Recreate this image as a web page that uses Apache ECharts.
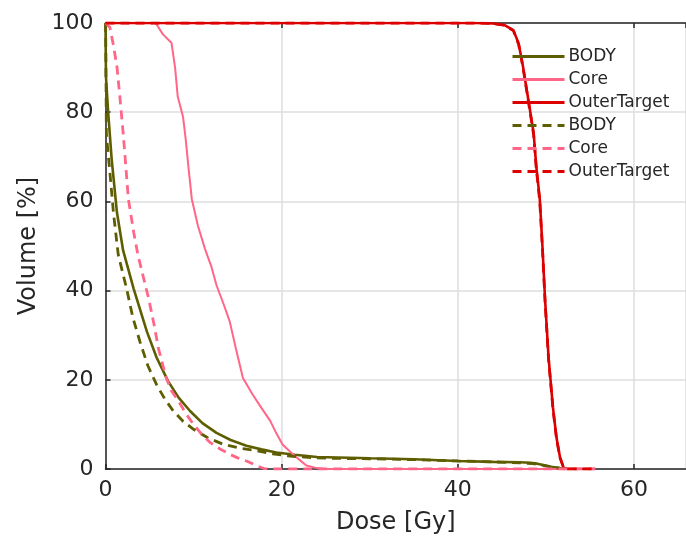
<!DOCTYPE html>
<html>
<head>
<meta charset="utf-8">
<script src="https://cdn.jsdelivr.net/npm/echarts@6/dist/echarts.min.js"></script>
<style>html,body{margin:0;padding:0;background:#fff}#c{width:686px;height:540px}</style>
</head>
<body>
<div id="c"></div>
<script>
var xTicks = [0, 20, 40, 60];
var yTicks = [0, 20, 40, 60, 80, 100];
var seriesNames = ['BODY', 'Core', 'OuterTarget'];

var bodySolid = [[0,100],[0.05,88],[0.3,80],[0.7,69.5],[1.3,57.5],[2.0,49],[3.2,40.4],[4.7,30.8],[5.8,25],[7.1,19.7],[8.3,16],[9.6,13],[11,10.3],[12.6,8.1],[14.2,6.5],[16,5.2],[17.7,4.4],[19.4,3.7],[21.5,3.2],[24,2.7],[30,2.4],[35,2.2],[40,1.8],[44,1.6],[47,1.5],[48.2,1.4],[49,1.2],[49.7,0.9],[50.6,0.5],[51.6,0.2],[52.5,0]];
var coreSolid = [[0,100],[5.7,100],[6.5,97.5],[7.5,95.5],[7.9,90],[8.2,83.5],[8.8,79],[9.1,74],[9.4,68],[9.8,60.5],[10.5,54.5],[11.3,49.3],[12,45.5],[12.6,41.2],[13.4,37],[14.1,33.1],[14.8,27],[15.6,20.4],[16.7,16.7],[17.7,13.7],[18.7,10.8],[19.4,8],[20.1,5.5],[21,3.8],[21.7,2.6],[22.3,1.6],[22.8,0.8],[24,0.2],[25,0],[55.6,0]];
var outerSolid = [[0,100],[42,100],[44,99.9],[45.3,99.5],[46.3,98.4],[46.9,95.4],[47.4,90.2],[48,82.8],[48.6,75.4],[48.9,67.9],[49.3,60.5],[49.6,50],[49.9,38],[50.3,24.9],[50.8,13.7],[51.2,7],[51.6,2.6],[52,0.3],[52.5,0],[55.6,0]];

var bodyDashed = [[0,100],[0.03,96],[0.1,75],[0.5,66.5],[0.9,57.5],[1.45,48],[2.4,40.4],[3.1,34],[3.9,28.6],[4.8,23.2],[5.8,18.9],[6.7,15.8],[7.7,13],[8.8,10.7],[10,8.9],[11.6,7],[13.4,5.5],[15.2,4.7],[17.2,4.1],[19,3.4],[20.9,2.9],[23,2.6],[25.5,2.4],[30,2.3],[35,2.1],[40,1.8],[44,1.6],[47,1.4],[48.5,1.2],[49.7,0.8],[50.8,0.4],[51.8,0.1],[52.5,0]];
var coreDashed = [[0,100],[0.5,99],[0.9,95],[1.3,90.2],[1.65,83],[2.0,75.4],[2.3,68],[2.6,60.5],[3.2,53.1],[3.7,47.8],[4.3,43],[4.9,38.2],[5.5,32.5],[6.0,27.1],[6.9,20.4],[7.5,17.5],[8.3,15.2],[9.1,12.5],[10.0,10],[10.9,7.8],[11.9,5.9],[13,4.5],[14.1,3.3],[15,2.5],[16,1.8],[17.2,0.7],[18,0.1],[18.5,0],[55.6,0]];
var outerDashed = [[0,100],[42,100],[44,99.9],[45.3,99.5],[46.3,98.3],[46.9,95.2],[47.4,90],[48,82.5],[48.6,75],[48.9,67.5],[49.3,60],[49.6,49.5],[49.9,37.5],[50.3,24.5],[50.8,13.4],[51.2,6.8],[51.6,2.5],[52,0.3],[52.5,0],[55.6,0]];

var colors = {BODY: '#5e5e00', Core: '#ff6688', OuterTarget: '#dd0000'};
var widths = {BODY: 2.6, Core: 2, OuterTarget: 2.6};
var txt = '#262626';
var font = 'DejaVu Sans';
var DASH_SUFFIX = ' (dashed)';

function mk(name, data, dashed) {
  return {
    name: dashed ? name + DASH_SUFFIX : name, type: 'line', data: data, symbol: 'none', showSymbol: false,
    animation: false, z: dashed ? 3 : 2,
    lineStyle: {color: colors[name], width: dashed ? 2.8 : widths[name], type: dashed ? [9, 6] : 'solid'},
    itemStyle: {color: colors[name]}
  };
}

var series = [
  mk('BODY', bodySolid, false),
  mk('Core', coreSolid, false),
  mk('OuterTarget', outerSolid, false),
  mk('BODY', bodyDashed, true),
  mk('Core', coreDashed, true),
  mk('OuterTarget', outerDashed, true)
];

var legendData = seriesNames.concat(seriesNames.map(function (n) { return n + DASH_SUFFIX; }));

var chart = echarts.init(document.getElementById('c'), null, {renderer: 'canvas'});
var xMin = xTicks[0], yMin = yTicks[0], yMax = yTicks[yTicks.length - 1];
chart.setOption({
  animation: false,
  backgroundColor: '#fff',
  grid: {left: 105.5, top: 23, right: 0, height: 448.5, show: false},
  legend: {
    orient: 'vertical', left: 511, top: 48, padding: 0, itemWidth: 52, itemHeight: 14, itemGap: 6,
    itemStyle: {opacity: 0},
    lineStyle: {width: 3},
    formatter: function (n) { return n.replace(DASH_SUFFIX, ''); },
    textStyle: {fontFamily: font, fontSize: 17, color: txt, padding: [0, 0, 0, -1]},
    data: legendData
  },
  xAxis: [{
    type: 'value', min: xMin, max: 65.9, interval: 20,
    name: 'Dose [Gy]', nameLocation: 'middle', nameGap: 42,
    nameTextStyle: {fontFamily: font, fontSize: 24, color: txt},
    axisLine: {show: true, lineStyle: {color: txt, width: 1.5}},
    axisTick: {show: true, inside: true, length: 5, lineStyle: {color: txt, width: 1.5}},
    axisLabel: {fontFamily: font, fontSize: 22, color: txt, margin: 10, showMaxLabel: false},
    splitLine: {show: true, lineStyle: {color: '#dedede', width: 1.5}}
  }, {
    type: 'value', position: 'top', min: xMin, max: 65.9, interval: 20,
    axisLine: {show: true, lineStyle: {color: txt, width: 1.5}},
    axisTick: {show: true, inside: true, length: 5, lineStyle: {color: txt, width: 1.5}},
    axisLabel: {show: false}, splitLine: {show: false}
  }],
  yAxis: [{
    type: 'value', min: yMin, max: yMax, interval: 20,
    name: 'Volume [%]', nameLocation: 'middle', nameGap: 63, nameRotate: 90,
    nameTextStyle: {fontFamily: font, fontSize: 24, color: txt},
    axisLine: {show: true, lineStyle: {color: txt, width: 1.5}},
    axisTick: {show: true, inside: true, length: 5, lineStyle: {color: txt, width: 1.5}},
    axisLabel: {fontFamily: font, fontSize: 22, color: txt, margin: 12},
    splitLine: {show: true, lineStyle: {color: '#dedede', width: 1.5}}
  }],
  series: series
});
</script>
</body>
</html>
